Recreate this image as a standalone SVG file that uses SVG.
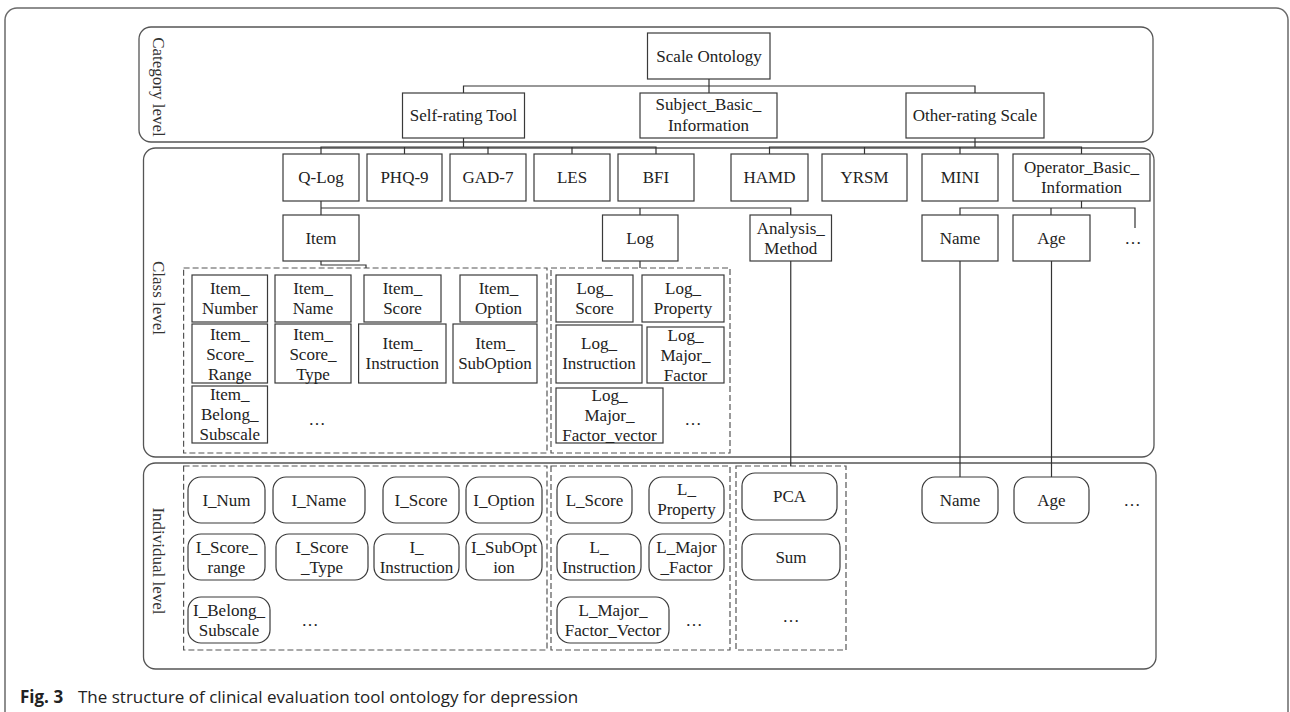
<svg xmlns="http://www.w3.org/2000/svg" width="1290" height="712" viewBox="0 0 1290 712">
<style>
.frame{fill:none;stroke:#6a6a6a;stroke-width:1.5}
.panel{fill:none;stroke:#555;stroke-width:1.3}
.grp{fill:none;stroke:#555;stroke-width:1.2;stroke-dasharray:6 3}
.box{fill:#fff;stroke:#3a3a3a;stroke-width:1.2}
.conn{fill:none;stroke:#333;stroke-width:1.2}
.t{font-family:"Liberation Serif","Times New Roman",serif;font-size:17px;fill:#222;text-anchor:middle}
.lbl{font-family:"Liberation Serif","Times New Roman",serif;font-size:17px;fill:#333;text-anchor:middle}
.cap{font-family:"Open Sans","Noto Sans",sans-serif;font-size:17px;fill:#222}
</style>
<rect class="frame" x="5" y="8" width="1283" height="740" rx="12"/>
<g id="panels">
<rect class="panel" x="139" y="27" width="1014" height="115" rx="12"/>
<rect class="panel" x="143.5" y="148" width="1010.5" height="309" rx="12"/>
<rect class="panel" x="143.5" y="463" width="1012.5" height="206" rx="12"/>
<text class="lbl" transform="translate(153,87) rotate(90)">Category level</text>
<text class="lbl" transform="translate(153,298) rotate(90)">Class level</text>
<text class="lbl" transform="translate(153,561) rotate(90)">Individual level</text>
</g>
<g id="groups">
<rect class="grp" x="183.6" y="268" width="363.4" height="185"/>
<rect class="grp" x="551" y="268" width="179" height="185"/>
<rect class="grp" x="183.6" y="466" width="363.4" height="184"/>
<rect class="grp" x="551" y="466" width="179" height="184"/>
<rect class="grp" x="736" y="466" width="110" height="184"/>
</g>
<g id="connectors">
<path class="conn" d="M709,79V93M463.5,93V86H975V93"/>
<path class="conn" d="M463.5,138V147M321,154V147H656V154M404.5,147V154M488,147V154M572,147V154"/>
<path class="conn" d="M975,138V147M769.5,154V147H1081.5V154M864.5,147V154M960,147V154"/>
<path class="conn" d="M321,201V215M321,208H790.75V215M640,208V215"/>
<path class="conn" d="M321,261V265H366V268M640,261V268M790.75,261V466"/>
<path class="conn" d="M1081.5,201V208M960,215V208H1135V228M1051,208V215"/>
<path class="conn" d="M960,261V477M1051.5,261V477"/>
</g>
<g id="scale_ontology"><rect class="box" x="647.5" y="33" width="122.5" height="46"/><text class="t" x="709" y="62">Scale Ontology</text></g>
<g id="self_rating_tool"><rect class="box" x="402.5" y="93" width="122" height="45"/><text class="t" x="463.5" y="121">Self-rating Tool</text></g>
<g id="subject_basic_information"><rect class="box" x="640" y="93" width="137" height="45"/><text class="t"><tspan x="708.5" y="110">Subject_Basic_</tspan><tspan x="708.5" y="131">Information</tspan></text></g>
<g id="other_rating_scale"><rect class="box" x="906" y="93" width="138" height="45"/><text class="t" x="975" y="121">Other-rating Scale</text></g>
<g id="q_log"><rect class="box" x="283" y="154" width="76" height="47"/><text class="t" x="321" y="183">Q-Log</text></g>
<g id="phq9"><rect class="box" x="367" y="154" width="75" height="47"/><text class="t" x="404.5" y="183">PHQ-9</text></g>
<g id="gad7"><rect class="box" x="450" y="154" width="76" height="47"/><text class="t" x="488" y="183">GAD-7</text></g>
<g id="les"><rect class="box" x="534" y="154" width="76" height="47"/><text class="t" x="572" y="183">LES</text></g>
<g id="bfi"><rect class="box" x="618" y="154" width="76" height="47"/><text class="t" x="656" y="183">BFI</text></g>
<g id="hamd"><rect class="box" x="731" y="154" width="77" height="47"/><text class="t" x="769.5" y="183">HAMD</text></g>
<g id="yrsm"><rect class="box" x="822" y="154" width="85" height="47"/><text class="t" x="864.5" y="183">YRSM</text></g>
<g id="mini"><rect class="box" x="922" y="154" width="76" height="47"/><text class="t" x="960" y="183">MINI</text></g>
<g id="operator_basic_information"><rect class="box" x="1013" y="154" width="137" height="47"/><text class="t"><tspan x="1081.5" y="173">Operator_Basic_</tspan><tspan x="1081.5" y="193">Information</tspan></text></g>
<g id="item"><rect class="box" x="283" y="215" width="76" height="46"/><text class="t" x="321" y="244">Item</text></g>
<g id="log"><rect class="box" x="602.5" y="215" width="75.5" height="46"/><text class="t" x="640" y="244">Log</text></g>
<g id="analysis_method"><rect class="box" x="750" y="215" width="81.5" height="46"/><text class="t"><tspan x="790.75" y="234">Analysis_</tspan><tspan x="790.75" y="254">Method</tspan></text></g>
<g id="name_class"><rect class="box" x="922" y="215" width="76" height="46"/><text class="t" x="960" y="244">Name</text></g>
<g id="age_class"><rect class="box" x="1013" y="215" width="77" height="46"/><text class="t" x="1051.5" y="244">Age</text></g>
<g id="more_operator"><text class="t" x="1133" y="244">…</text></g>
<g id="item_number"><rect class="box" x="192" y="275" width="75.5" height="47"/><text class="t"><tspan x="229.75" y="294">Item_</tspan><tspan x="229.75" y="314">Number</tspan></text></g>
<g id="item_name"><rect class="box" x="275" y="275" width="76" height="47"/><text class="t"><tspan x="313" y="294">Item_</tspan><tspan x="313" y="314">Name</tspan></text></g>
<g id="item_score"><rect class="box" x="364" y="275" width="77" height="47"/><text class="t"><tspan x="402.5" y="294">Item_</tspan><tspan x="402.5" y="314">Score</tspan></text></g>
<g id="item_option"><rect class="box" x="460" y="275" width="77" height="47"/><text class="t"><tspan x="498.5" y="294">Item_</tspan><tspan x="498.5" y="314">Option</tspan></text></g>
<g id="log_score"><rect class="box" x="556" y="275" width="77" height="47"/><text class="t"><tspan x="594.5" y="294">Log_</tspan><tspan x="594.5" y="314">Score</tspan></text></g>
<g id="log_property"><rect class="box" x="642" y="275" width="82" height="47"/><text class="t"><tspan x="683" y="294">Log_</tspan><tspan x="683" y="314">Property</tspan></text></g>
<g id="item_score_range"><rect class="box" x="192" y="324" width="75.5" height="59"/><text class="t"><tspan x="229.75" y="340">Item_</tspan><tspan x="229.75" y="360">Score_</tspan><tspan x="229.75" y="380">Range</tspan></text></g>
<g id="item_score_type"><rect class="box" x="275" y="324" width="76" height="59"/><text class="t"><tspan x="313" y="340">Item_</tspan><tspan x="313" y="360">Score_</tspan><tspan x="313" y="380">Type</tspan></text></g>
<g id="item_instruction"><rect class="box" x="358.6" y="324" width="87.4" height="59"/><text class="t"><tspan x="402.3" y="349">Item_</tspan><tspan x="402.3" y="369">Instruction</tspan></text></g>
<g id="item_suboption"><rect class="box" x="453" y="324" width="84" height="59"/><text class="t"><tspan x="495" y="349">Item_</tspan><tspan x="495" y="369">SubOption</tspan></text></g>
<g id="log_instruction"><rect class="box" x="556" y="325" width="86" height="58"/><text class="t"><tspan x="599" y="349">Log_</tspan><tspan x="599" y="369">Instruction</tspan></text></g>
<g id="log_major_factor"><rect class="box" x="647" y="327" width="77" height="56"/><text class="t"><tspan x="685.5" y="341">Log_</tspan><tspan x="685.5" y="361">Major_</tspan><tspan x="685.5" y="381">Factor</tspan></text></g>
<g id="item_belong_subscale"><rect class="box" x="192" y="386" width="75.5" height="57"/><text class="t"><tspan x="229.75" y="400">Item_</tspan><tspan x="229.75" y="420">Belong_</tspan><tspan x="229.75" y="440">Subscale</tspan></text></g>
<g id="more_item_class"><text class="t" x="317" y="425">…</text></g>
<g id="log_major_factor_vector"><rect class="box" x="556" y="388" width="107" height="55"/><text class="t"><tspan x="609.5" y="401">Log_</tspan><tspan x="609.5" y="421">Major_</tspan><tspan x="609.5" y="441">Factor_vector</tspan></text></g>
<g id="more_log_class"><text class="t" x="693" y="425">…</text></g>
<g id="i_num"><rect class="box" x="188" y="477" width="77" height="46" rx="13"/><text class="t" x="226.5" y="506">I_Num</text></g>
<g id="i_name"><rect class="box" x="273" y="477" width="92" height="46" rx="13"/><text class="t" x="319" y="506">I_Name</text></g>
<g id="i_score"><rect class="box" x="383" y="477" width="76" height="46" rx="13"/><text class="t" x="421" y="506">I_Score</text></g>
<g id="i_option"><rect class="box" x="466" y="477" width="76" height="46" rx="13"/><text class="t" x="504" y="506">I_Option</text></g>
<g id="l_score"><rect class="box" x="557" y="477" width="75" height="46" rx="13"/><text class="t" x="594.5" y="506">L_Score</text></g>
<g id="l_property"><rect class="box" x="649" y="477" width="75" height="46" rx="13"/><text class="t"><tspan x="686.5" y="495">L_</tspan><tspan x="686.5" y="515">Property</tspan></text></g>
<g id="pca"><rect class="box" x="742" y="473" width="95" height="47" rx="13"/><text class="t" x="789.5" y="502">PCA</text></g>
<g id="name_ind"><rect class="box" x="922" y="477" width="76" height="46" rx="13"/><text class="t" x="960" y="506">Name</text></g>
<g id="age_ind"><rect class="box" x="1014" y="477" width="75" height="46" rx="13"/><text class="t" x="1051.5" y="506">Age</text></g>
<g id="more_ind"><text class="t" x="1132" y="506">…</text></g>
<g id="i_score_range"><rect class="box" x="188" y="534" width="77" height="46" rx="13"/><text class="t"><tspan x="226.5" y="553">I_Score_</tspan><tspan x="226.5" y="573">range</tspan></text></g>
<g id="i_score_type"><rect class="box" x="276" y="534" width="92" height="46" rx="13"/><text class="t"><tspan x="322" y="553">I_Score</tspan><tspan x="322" y="573">_Type</tspan></text></g>
<g id="i_instruction"><rect class="box" x="374" y="534" width="85" height="46" rx="13"/><text class="t"><tspan x="416.5" y="553">I_</tspan><tspan x="416.5" y="573">Instruction</tspan></text></g>
<g id="i_suboption"><rect class="box" x="466" y="534" width="76" height="46" rx="13"/><text class="t"><tspan x="504" y="553">I_SubOpt</tspan><tspan x="504" y="573">ion</tspan></text></g>
<g id="l_instruction"><rect class="box" x="557" y="534" width="84" height="46" rx="13"/><text class="t"><tspan x="599" y="553">L_</tspan><tspan x="599" y="573">Instruction</tspan></text></g>
<g id="l_major_factor"><rect class="box" x="649" y="534" width="75" height="46" rx="13"/><text class="t"><tspan x="686.5" y="553">L_Major</tspan><tspan x="686.5" y="573">_Factor</tspan></text></g>
<g id="sum"><rect class="box" x="742" y="534" width="98" height="46" rx="13"/><text class="t" x="791" y="563">Sum</text></g>
<g id="i_belong_subscale"><rect class="box" x="188" y="597" width="82" height="46" rx="13"/><text class="t"><tspan x="229" y="616">I_Belong_</tspan><tspan x="229" y="636">Subscale</tspan></text></g>
<g id="more_item_ind"><text class="t" x="310" y="626">…</text></g>
<g id="l_major_factor_vector"><rect class="box" x="557" y="597" width="112" height="46" rx="13"/><text class="t"><tspan x="613" y="616">L_Major_</tspan><tspan x="613" y="636">Factor_Vector</tspan></text></g>
<g id="more_log_ind"><text class="t" x="694" y="626">…</text></g>
<g id="more_analysis_ind"><text class="t" x="791" y="622">…</text></g>
<g id="caption"><text class="cap" x="20" y="703"><tspan font-weight="bold">Fig. 3</tspan><tspan x="78">The structure of clinical evaluation tool ontology for depression</tspan></text></g>
</svg>
